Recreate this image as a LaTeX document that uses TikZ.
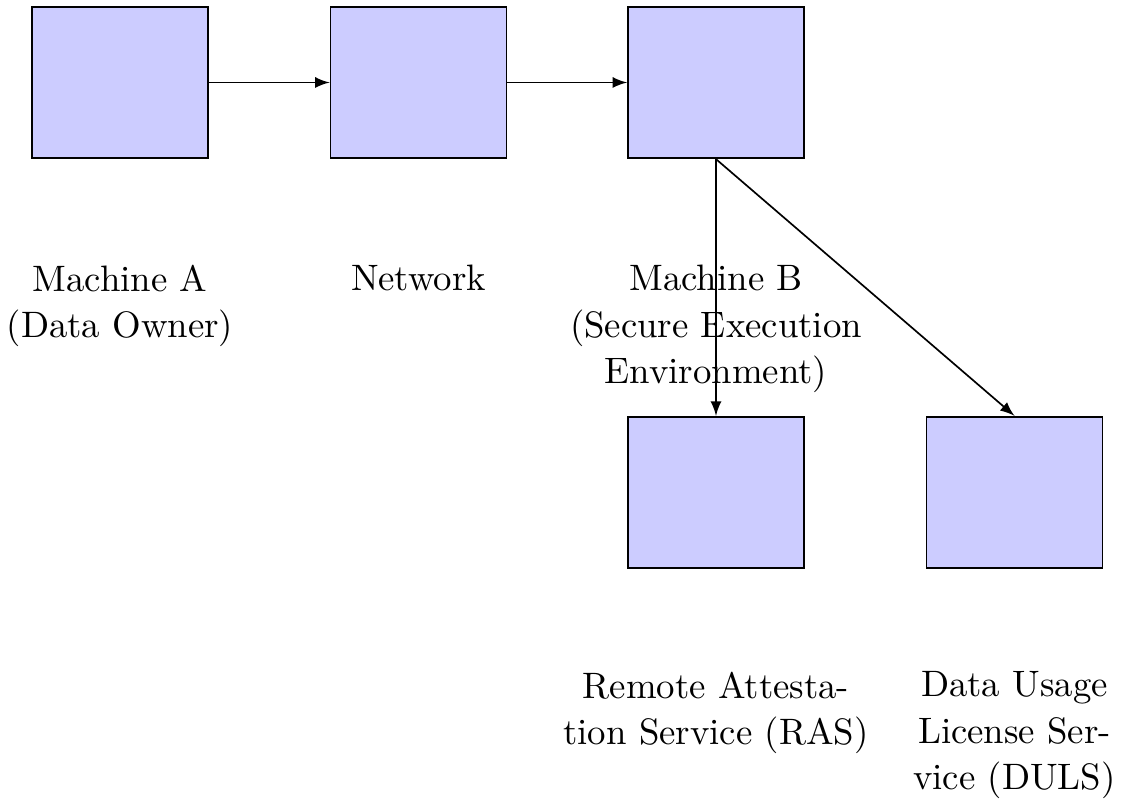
\documentclass[tikz,border=0pt]{standalone}
\usetikzlibrary{arrows}
\begin{document}
\begin{tikzpicture}[x=0.2976pt, y=-0.2976pt,
  box/.style={draw=black, fill=blue!20, line width=0.5pt,
    minimum width=52.4pt, minimum height=45.1pt, inner sep=0pt},
  lbl/.style={anchor=north, align=center, inner sep=0pt,
    font=\fontsize{10.95}{13.8}\selectfont},
  conn/.style={-latex, line width=0.5pt}]
  \useasboundingbox (0,0) rectangle (1125,801);

  % components
  \node[box] (ma)   at (120,82.5)    {};
  \node[box] (net)  at (418.5,82.5)  {};
  \node[box] (mb)   at (716,82.5)    {};
  \node[box] (ras)  at (716,492.5)   {};
  \node[box] (duls) at (1014.5,492.5) {};

  % captions
  \node[lbl] (lma)   at (120,264.5)   {Machine A\\(Data Owner)};
  \node[lbl] (lnet)  at (418.5,264.5) {Network};
  \node[lbl] (lmb)   at (716,264.5)   {Machine B\\(Secure Execution\\Environment)};
  \node[lbl] (lras)  at (716,671)     {Remote Attesta-\\tion Service (RAS)};
  \node[lbl] (lduls) at (1014.5,671)  {Data Usage\\License Ser-\\vice (DULS)};

  % data flow
  \draw[conn] (ma.east) -- (net.west);
  \draw[conn] (net.east) -- (mb.west);
  \draw[conn] (mb.south) -- (ras.north);
  \draw[conn] (mb.south) -- (duls.north);
\end{tikzpicture}
\end{document}
